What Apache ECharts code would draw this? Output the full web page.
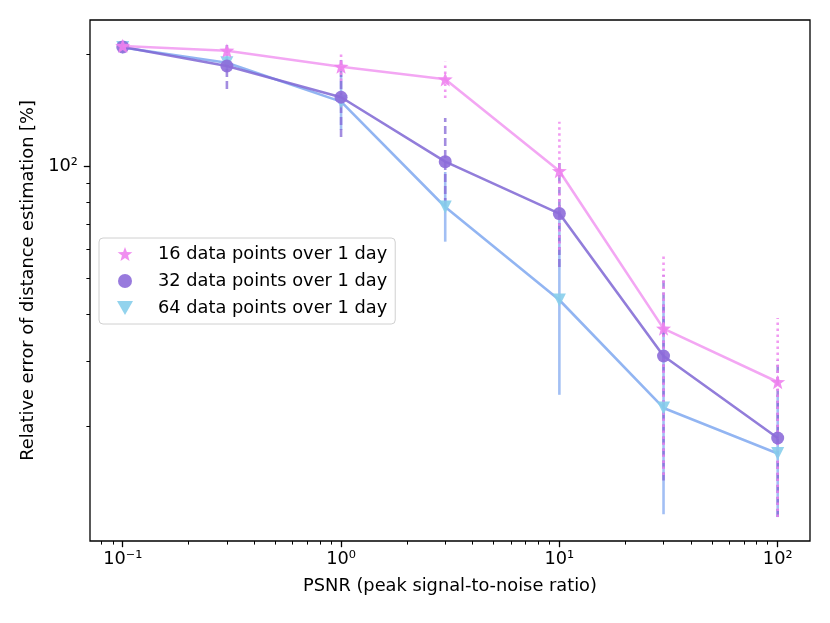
<!DOCTYPE html>
<html>
<head>
<meta charset="utf-8">
<script src="https://cdn.jsdelivr.net/npm/echarts@6/dist/echarts.min.js"></script>
<style>
  html, body { margin: 0; padding: 0; background: #fff; }
  #chart { width: 830px; height: 623px; }
</style>
</head>
<body>
<div id="chart"></div>
<script>
// PSNR values on the x axis
const psnr = [0.1, 0.3, 1, 3, 10, 30, 100];

// 16 data points over 1 day
const err16 = [210.6, 204.5, 185.2, 171.3, 97.1, 36.6, 26.3];
const low16 = [208.0, 198.0, 169.5, 152.6, 59.6, 14.8, 11.4];
const high16 = [213.2, 210.6, 202.0, 191.1, 131.8, 58.5, 39.1];

// 32 data points over 1 day
const err32 = [209.3, 186.0, 153.3, 102.9, 74.6, 30.9, 18.6];
const low32 = [206.7, 161.4, 119.9, 78.2, 53.6, 14.3, 11.4];
const high32 = [211.9, 213.2, 193.1, 134.8, 104.0, 51.0, 30.1];

// 64 data points over 1 day
const err64 = [208.7, 189.9, 149.2, 77.7, 43.7, 22.4, 16.9];
const low64 = [205.4, 179.3, 125.2, 62.7, 24.3, 11.6, 11.4];
const high64 = [211.9, 199.2, 176.0, 96.5, 78.7, 43.7, 24.3];

const seriesNames = ['16 data points over 1 day', '32 data points over 1 day', '64 data points over 1 day'];

// axis ranges and ticks
const XMIN = 0.0708, XMAX = 140.6;
const YMIN = 9.83, YMAX = 247.3;
const xMajor = [0.1, 1, 10, 100];
const xTickLabels = ['10⁻¹', '10⁰', '10¹', '10²'];
const xMinor = [0.08, 0.09, 0.2, 0.3, 0.4, 0.5, 0.6, 0.7, 0.8, 0.9,
                2, 3, 4, 5, 6, 7, 8, 9, 20, 30, 40, 50, 60, 70, 80, 90];
const yMajor = [100];
const yTickLabels = ['10²'];
const yMinor = [20, 30, 40, 50, 60, 70, 80, 90, 200];

const FONT = 'DejaVu Sans';
const FS = 17.8;
const STAR = 'path://M50,0 L62.5,33.5 L100,35.3 L70.5,58 L80.9,95 L50,74 L19.1,95 L29.5,58 L0,35.3 L37.5,33.5 Z';
const TRI_DOWN = 'path://M0,0 L100,0 L50,86.6 Z';

const lg = Math.log10;

function labelFor(vals, labels) {
  return function (v) {
    for (let i = 0; i < vals.length; i++) {
      if (Math.abs(lg(vals[i]) - v) < 1e-6) return labels[i];
    }
    return '';
  };
}

// log axis that carries the data (hidden), plus value axes in log10 space for ticks
function axesFor(min, max, major, labels, minor, isX) {
  const pos = isX ? 'bottom' : 'left';
  return [
    {
      type: 'log', logBase: 10, min: min, max: max, position: pos,
      axisLine: { show: false, onZero: false }, axisTick: { show: false },
      axisLabel: { show: false }, splitLine: { show: false }
    },
    {
      type: 'value', min: lg(min), max: lg(max), position: pos,
      axisLine: { show: false, onZero: false },
      axisTick: { show: true, customValues: major.map(lg), length: 6.2,
                  lineStyle: { color: '#000', width: 1.3 } },
      axisLabel: { show: true, customValues: major.map(lg), formatter: labelFor(major, labels),
                   color: '#000', fontFamily: FONT, fontSize: FS, margin: isX ? 9 : 12 },
      splitLine: { show: false },
      name: isX ? 'PSNR (peak signal-to-noise ratio)' : 'Relative error of distance estimation [%]',
      nameLocation: 'middle',
      nameGap: isX ? 36 : 50,
      nameRotate: isX ? 0 : 90,
      nameTextStyle: { color: '#000', fontFamily: FONT, fontSize: FS }
    },
    {
      type: 'value', min: lg(min), max: lg(max), position: pos,
      axisLine: { show: false, onZero: false },
      axisTick: { show: true, customValues: minor.map(lg), length: 3.6,
                  lineStyle: { color: '#000', width: 1 } },
      axisLabel: { show: false }, splitLine: { show: false }
    }
  ];
}

function errorBars(name, low, high, color, dash, opacity, z) {
  return {
    type: 'custom', name: name, xAxisIndex: 0, yAxisIndex: 0,
    silent: true, z: z,
    data: psnr.map((x, i) => [x, low[i], high[i]]),
    renderItem: function (params, api) {
      const a = api.coord([api.value(0), api.value(1)]);
      const b = api.coord([api.value(0), api.value(2)]);
      return {
        type: 'line',
        shape: { x1: a[0], y1: a[1], x2: b[0], y2: b[1] },
        style: { stroke: color, lineWidth: 2.6, lineDash: dash, opacity: opacity }
      };
    }
  };
}

function lineSeries(name, vals, symbol, size, rotate, markColor, lineColor, lineOpacity, z) {
  return {
    type: 'line', name: name, xAxisIndex: 0, yAxisIndex: 0,
    data: psnr.map((x, i) => [x, vals[i]]),
    symbol: symbol, symbolSize: size, symbolRotate: rotate, symbolKeepAspect: true,
    showAllSymbol: true,
    lineStyle: { color: lineColor, width: 2.6, opacity: lineOpacity },
    itemStyle: { color: markColor, opacity: 0.9 },
    emphasis: { disabled: true },
    z: z
  };
}

const chart = echarts.init(document.getElementById('chart'), null, { renderer: 'canvas' });

chart.setOption({
  animation: false,
  backgroundColor: '#fff',
  textStyle: { fontFamily: FONT },
  grid: {
    left: 90, top: 20, right: 20, bottom: 82,
    outerBoundsMode: 'none',
    show: true, borderColor: '#000', borderWidth: 1.3, backgroundColor: 'transparent'
  },
  xAxis: axesFor(XMIN, XMAX, xMajor, xTickLabels, xMinor, true),
  yAxis: axesFor(YMIN, YMAX, yMajor, yTickLabels, yMinor, false),
  legend: {
    orient: 'vertical',
    left: 99, top: 238,
    padding: [7, 8, 7, 18],
    itemWidth: 16, itemHeight: 14, itemGap: 9,
    backgroundColor: '#fff',
    borderColor: '#d0d0d0', borderWidth: 1, borderRadius: 4,
    textStyle: { color: '#000', fontFamily: FONT, fontSize: FS, padding: [0, 0, 0, 20] },
    selectedMode: false,
    data: [
      { name: seriesNames[0], icon: STAR },
      { name: seriesNames[1], icon: 'circle' },
      { name: seriesNames[2], icon: TRI_DOWN }
    ]
  },
  series: [
    errorBars('err64', low64, high64, '#6495ed', null, 0.6, 1),
    errorBars('err32', low32, high32, '#8466d6', [8, 4], 0.75, 1.1),
    errorBars('err16', low16, high16, '#ee82ee', [2.5, 3.5], 0.8, 1.2),
    lineSeries(seriesNames[0], err16, STAR, 15, 0, '#ee82ee', '#ee82ee', 0.7, 4),
    lineSeries(seriesNames[1], err32, 'circle', 13, 0, '#8d6bd9', '#7f66d4', 0.85, 3),
    lineSeries(seriesNames[2], err64, 'triangle', 13, 180, '#87ceeb', '#6495ed', 0.7, 2)
  ]
});
</script>
</body>
</html>
